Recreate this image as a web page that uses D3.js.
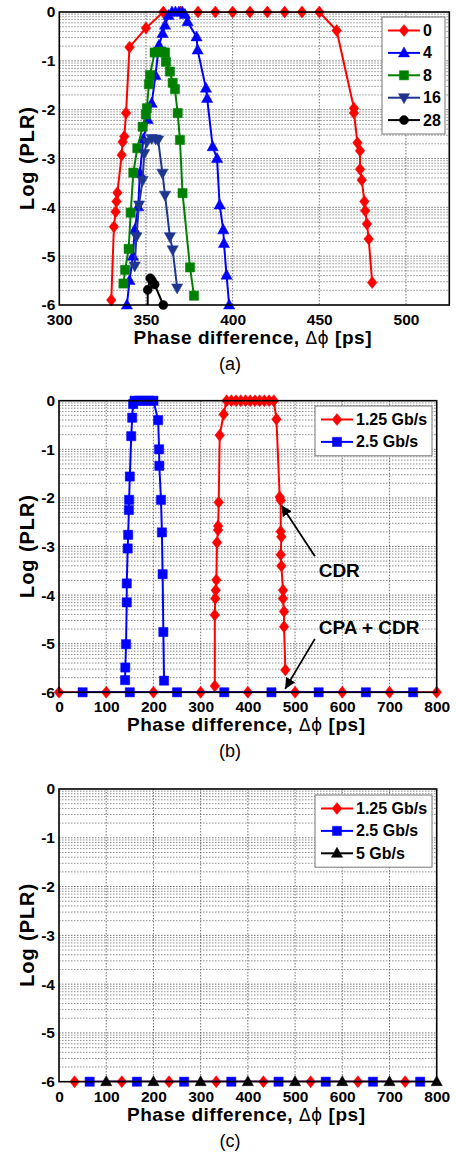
<!DOCTYPE html>
<html>
<head>
<meta charset="utf-8">
<script src="https://cdn.jsdelivr.net/npm/d3@7"></script>
<style>
body { margin: 0; background: #fff; }
svg text { font-family: "Liberation Sans", Arial, sans-serif; }
</style>
</head>
<body>
<svg id="chart" width="456" height="1157"></svg>
<script>
// ---------------- data ----------------
var yTicks = [0, -1, -2, -3, -4, -5, -6];
var xTicksA = [300, 350, 400, 450, 500];
var xTicksBC = [0, 100, 200, 300, 400, 500, 600, 700, 800];

// (a) PLR vs phase difference, per parameter value
var legendA = ["0", "4", "8", "16", "28"];
var phaseA0 = [330, 331.5, 332.5, 333, 333.5, 336, 336.5, 337.5, 338.5, 340.5, 350,
  360, 370, 380, 390, 400, 410, 420, 430, 440, 450,
  460, 470, 470, 472, 473.5, 473.5, 474.5, 476, 476.5, 477.5, 478.5, 480.5];
var plrA0 = [-5.9, -4.4, -4.09, -3.88, -3.7, -2.93, -2.66, -2.55, -2.07, -0.72, -0.33,
  0, 0, 0, 0, 0, 0, 0, 0, 0, 0,
  -0.38, -1.97, -2.07, -2.68, -2.84, -3.22, -3.44, -3.88, -4.07, -4.34, -4.65, -5.54];
var phaseA4 = [339, 340.5, 342.5, 343.5, 345.5, 346.5, 348.5, 351, 353.3, 355.5, 357.5, 359.6, 361, 363,
  365, 367, 369, 371, 372.5, 374, 379.2, 379.8, 384.6, 385.3, 388.5, 391, 392.5, 394.6, 395, 396.5, 398];
var plrA4 = [-6, -5.5, -5.0, -4.46, -3.99, -3.3, -2.6, -2.2, -1.87, -1.3, -0.68, -0.44, -0.27, -0.07,
  0, 0, 0, 0, -0.05, -0.2, -0.51, -0.78, -1.56, -1.77, -2.76, -3.0, -3.95, -4.46, -4.74, -5.39, -6];
var phaseA8 = [337, 338, 340, 341.2, 342.7, 345, 348.1, 350, 350.5, 351.7, 352.3, 355, 357, 359, 361,
  361.5, 363.8, 365.4, 366.7, 368.3, 369.6, 371.1, 375.4, 377.7];
var plrA8 = [-5.56, -5.28, -4.85, -4.11, -3.29, -2.79, -2.35, -2.1, -1.97, -1.48, -1.29, -0.83, -0.82, -0.81, -0.83,
  -1.02, -1.22, -1.45, -1.58, -2.07, -2.62, -3.71, -5.23, -5.81];
var phaseA16 = [343.5, 344.5, 346, 348, 349, 350.5, 353.3, 355.5, 357, 359.5, 361, 363.8, 365.4, 368];
var plrA16 = [-5.2, -4.6, -3.95, -3.45, -2.9, -2.66, -2.59, -2.6, -2.62, -3.3, -3.75, -4.6, -4.87, -5.65];
var phaseA28 = [351, 351, 352.5, 353.5, 355, 360];
var plrA28 = [-7, -5.69, -5.45, -5.5, -5.58, -6];

// (b) CDR only and CPA + CDR
var legendB = ["1.25 Gb/s", "2.5 Gb/s"];
var phaseB125 = [330, 330, 331, 332, 333.3, 334.7, 336.8, 337, 338.3, 340.4, 348.8,
  355, 365, 375, 385, 395, 405, 415, 425, 435, 445, 455,
  460.5, 467.5, 469.6, 469.6, 471, 469.6, 471, 474.5, 474.5, 476.6, 476.6, 479.5];
var plrB125 = [-5.87, -4.41, -4.07, -3.9, -3.69, -2.92, -2.66, -2.58, -2.09, -0.71, -0.28,
  0, 0, 0, 0, 0, 0, 0, 0, 0, 0, 0,
  -0.38, -1.98, -2.05, -2.69, -2.8, -3.17, -3.4, -3.9, -4.07, -4.34, -4.65, -5.54];
var phaseB25 = [140, 140.5, 142, 143.5, 143.5, 145.5, 146.5, 148, 148.5, 150, 153, 155, 157,
  160, 170, 180, 190, 200, 210, 212, 212.5, 216, 218, 219.5, 221, 222.5];
var plrB25 = [-5.75, -5.49, -5.01, -4.15, -3.76, -3.04, -2.76, -2.25, -2.04, -1.56, -0.73, -0.35, -0.07,
  0, 0, 0, 0, 0, -0.4, -1.0, -1.34, -2.04, -2.71, -3.57, -4.76, -5.76];
var phaseB125cpa = [0, 100, 200, 300, 400, 500, 600, 700, 800];
var plrB125cpa = [-6, -6, -6, -6, -6, -6, -6, -6, -6];
var phaseB25cpa = [50, 150, 250, 350, 450, 550, 650, 750];
var plrB25cpa = [-6, -6, -6, -6, -6, -6, -6, -6];
var notes = ["CDR", "CPA + CDR"];

// (c) CPA + CDR at three rates
var legendC = ["1.25 Gb/s", "2.5 Gb/s", "5 Gb/s"];
var phaseC125 = [33, 133, 233, 333, 433, 533, 633, 733];
var plrC125 = [-6, -6, -6, -6, -6, -6, -6, -6];
var phaseC25 = [65, 165, 265, 365, 465, 565, 665, 765];
var plrC25 = [-6, -6, -6, -6, -6, -6, -6, -6];
var phaseC5 = [100, 200, 300, 400, 500, 600, 700, 800];
var plrC5 = [-6, -6, -6, -6, -6, -6, -6, -6];

// ---------------- drawing ----------------
var svg = d3.select("#chart");
var FONT = "Liberation Sans, Arial, sans-serif";

function markerPath(type) {
	if (type == "diamond") return "M0,-6L4.8,0L0,6L-4.8,0Z";
	if (type == "up") return "M0,-6L5.6,4L-5.6,4Z";
	if (type == "down") return "M0,6L5.6,-4L-5.6,-4Z";
	if (type == "square") return "M-4.6,-4.6H4.6V4.6H-4.6Z";
	return d3.symbol().type(d3.symbolCircle).size(64)();
}

function drawPanel(p) {
	var g = svg.append("g");
	var x = d3.scaleLinear().domain(p.xDomain).range([p.left, p.right]);
	var y = d3.scaleLinear().domain([-6, 0]).range([p.bottom, p.top]);

	g.append("rect")
		.attr("x", p.left).attr("y", p.top)
		.attr("width", p.right - p.left).attr("height", p.bottom - p.top)
		.style("fill", "#fff");

	// log-style minor grid inside each decade
	var minor = [];
	for (var k = 0; k < 6; k++)
		for (var m = 2; m <= 9; m++) minor.push(-(k + 1) + Math.log10(m));

	g.selectAll("line.minor").data(minor).enter().append("line")
		.attr("x1", p.left).attr("x2", p.right)
		.attr("y1", function(d) { return y(d); })
		.attr("y2", function(d) { return y(d); })
		.style("stroke", "#606060").style("stroke-width", 0.7)
		.style("stroke-dasharray", "1.5,1.5");

	g.selectAll("line.hmajor").data(yTicks.slice(1, -1)).enter().append("line")
		.attr("x1", p.left).attr("x2", p.right)
		.attr("y1", function(d) { return y(d); })
		.attr("y2", function(d) { return y(d); })
		.style("stroke", "#505050").style("stroke-width", 0.8)
		.style("stroke-dasharray", "1.5,1.5");

	g.selectAll("line.vmajor").data(p.xTicks.filter(function(d) { return d > p.xDomain[0] && d < p.xDomain[1]; }))
		.enter().append("line")
		.attr("y1", p.top).attr("y2", p.bottom)
		.attr("x1", function(d) { return x(d); })
		.attr("x2", function(d) { return x(d); })
		.style("stroke", "#505050").style("stroke-width", 0.8)
		.style("stroke-dasharray", "1.5,1.5");

	var clipId = "clip" + p.name;
	svg.append("clipPath").attr("id", clipId).append("rect")
		.attr("x", p.left).attr("y", p.top)
		.attr("width", p.right - p.left).attr("height", p.bottom - p.top);

	var line = d3.line()
		.x(function(d) { return x(d[0]); })
		.y(function(d) { return y(d[1]); });

	p.series.forEach(function(s) {
		var pts = d3.zip(s.x, s.y);
		g.append("path").datum(pts)
			.attr("d", line)
			.attr("clip-path", "url(#" + clipId + ")")
			.style("fill", "none")
			.style("stroke", s.color)
			.style("stroke-width", 2)
			.style("stroke-linejoin", "round");
		g.selectAll(null).data(pts.filter(function(d) { return d[1] >= -6; }))
			.enter().append("path")
			.attr("d", markerPath(s.marker))
			.attr("transform", function(d) { return "translate(" + x(d[0]) + "," + y(d[1]) + ")"; })
			.style("fill", s.color)
			.style("stroke", s.color)
			.style("stroke-width", 0.5);
	});

	// frame
	g.append("rect")
		.attr("x", p.left).attr("y", p.top)
		.attr("width", p.right - p.left).attr("height", p.bottom - p.top)
		.style("fill", "none").style("stroke", "#000").style("stroke-width", 1.6);

	// axes (labels only)
	var ax = g.append("g").attr("transform", "translate(0," + p.bottom + ")")
		.call(d3.axisBottom(x).tickValues(p.xTicks).tickSize(0).tickPadding(9).tickFormat(d3.format("d")));
	var ay = g.append("g").attr("transform", "translate(" + p.left + ",0)")
		.call(d3.axisLeft(y).tickValues(yTicks).tickSize(0).tickPadding(4).tickFormat(d3.format("d")));
	[ax, ay].forEach(function(a) {
		a.select(".domain").remove();
		a.selectAll("text")
			.style("font-family", FONT)
			.style("font-size", "15.5px")
			.style("font-weight", "bold")
			.style("fill", "#000");
	});
	ay.selectAll("text").text(function(d) { return d == 0 ? "0" : "-" + Math.abs(d); });

	// axis titles
	g.append("text")
		.attr("transform", "translate(27," + ((p.top + p.bottom) / 2) + ") rotate(-90)")
		.attr("text-anchor", "middle")
		.attr("dominant-baseline", "central")
		.attr("textLength", 103)
		.style("font-size", "20px").style("font-weight", "bold")
		.text("Log (PLR)");

	var xt = g.append("text")
		.attr("x", p.titleX).attr("y", p.bottom + 39)
		.attr("text-anchor", "middle")
		.attr("textLength", 238)
		.style("font-size", "19px").style("font-weight", "bold");
	xt.append("tspan").text("Phase difference, ");
	xt.append("tspan").style("font-weight", "normal").style("font-family", "DejaVu Sans, sans-serif")
		.style("font-size", "17px").text("\u0394\u03d5");
	xt.append("tspan").text(" [ps]");

	g.append("text")
		.attr("x", 230).attr("y", p.bottom + 65)
		.attr("text-anchor", "middle")
		.style("font-size", "18px")
		.text(p.label);

	// legend
	var lg = p.legend;
	var lh = 22.4;
	var boxTop = p.top + lg.dy;
	var boxLeft = p.right - lg.dx - lg.w;
	var leg = g.append("g");
	leg.append("rect")
		.attr("x", boxLeft).attr("y", boxTop)
		.attr("width", lg.w).attr("height", lg.names.length * lh + 5)
		.style("fill", "#fff").style("stroke", "#777").style("stroke-width", 1);
	lg.names.forEach(function(name, i) {
		var s = p.series[i];
		var cy = boxTop + 13.5 + i * lh;
		leg.append("line")
			.attr("x1", boxLeft + 6).attr("x2", boxLeft + 38)
			.attr("y1", cy).attr("y2", cy)
			.style("stroke", s.color).style("stroke-width", 2);
		leg.append("path")
			.attr("d", markerPath(s.marker))
			.attr("transform", "translate(" + (boxLeft + 22) + "," + cy + ")")
			.style("fill", s.color).style("stroke", s.color).style("stroke-width", 0.5);
		leg.append("text")
			.attr("x", boxLeft + 41).attr("y", cy)
			.attr("dominant-baseline", "central")
			.style("font-size", "16px").style("font-weight", "bold")
			.text(name);
	});

	return { x: x, y: y, g: g };
}

var RED = "#ff0000", BLUE = "#0000ff", GREEN = "#008000", NAVY = "#1f3690", BLACK = "#000000";

drawPanel({
	name: "a", left: 59.3, right: 449.3, top: 12, bottom: 305,
	xDomain: [300, 525], xTicks: xTicksA, titleX: 252.5, label: "(a)",
	series: [
		{ x: phaseA0, y: plrA0, color: RED, marker: "diamond" },
		{ x: phaseA4, y: plrA4, color: BLUE, marker: "up" },
		{ x: phaseA8, y: plrA8, color: GREEN, marker: "square" },
		{ x: phaseA16, y: plrA16, color: NAVY, marker: "down" },
		{ x: phaseA28, y: plrA28, color: BLACK, marker: "circle" }
	],
	legend: { names: legendA, w: 63, dx: 4.3, dy: 5 }
});

var pb = drawPanel({
	name: "b", left: 59, right: 436.7, top: 400.7, bottom: 692.3,
	xDomain: [0, 800], xTicks: xTicksBC, titleX: 246, label: "(b)",
	series: [
		{ x: phaseB125, y: plrB125, color: RED, marker: "diamond" },
		{ x: phaseB25, y: plrB25, color: BLUE, marker: "square" },
		{ x: phaseB125cpa, y: plrB125cpa, color: RED, marker: "diamond" },
		{ x: phaseB25cpa, y: plrB25cpa, color: BLUE, marker: "square" }
	],
	legend: { names: legendB, w: 117, dx: 4.7, dy: 5.3 }
});

// annotations in (b): text position, arrow tail, arrow tip (data units)
var noteText = [[550, -3.63], [550, -4.8]];
var noteTail = [[542, -3.2], [542, -4.9]];
var noteTip = [[471, -2.15], [479, -5.93]];
svg.append("defs").append("marker")
	.attr("id", "arrow").attr("viewBox", "0 0 10 10")
	.attr("refX", 10).attr("refY", 5)
	.attr("markerWidth", 6).attr("markerHeight", 6)
	.attr("orient", "auto")
	.append("path").attr("d", "M0,0L10,5L0,10Z").style("fill", "#000");
notes.forEach(function(t, i) {
	pb.g.append("line")
		.attr("x1", pb.x(noteTail[i][0])).attr("y1", pb.y(noteTail[i][1]))
		.attr("x2", pb.x(noteTip[i][0])).attr("y2", pb.y(noteTip[i][1]))
		.attr("marker-end", "url(#arrow)")
		.style("stroke", "#000").style("stroke-width", 1.8);
	pb.g.append("text")
		.attr("x", pb.x(noteText[i][0])).attr("y", pb.y(noteText[i][1]))
		.style("font-size", "19px").style("font-weight", "bold")
		.text(t);
});

drawPanel({
	name: "c", left: 59, right: 436.7, top: 789, bottom: 1081.7,
	xDomain: [0, 800], xTicks: xTicksBC, titleX: 246, label: "(c)",
	series: [
		{ x: phaseC125, y: plrC125, color: RED, marker: "diamond" },
		{ x: phaseC25, y: plrC25, color: BLUE, marker: "square" },
		{ x: phaseC5, y: plrC5, color: BLACK, marker: "up" }
	],
	legend: { names: legendC, w: 117, dx: 4.7, dy: 6 }
});
</script>
</body>
</html>
